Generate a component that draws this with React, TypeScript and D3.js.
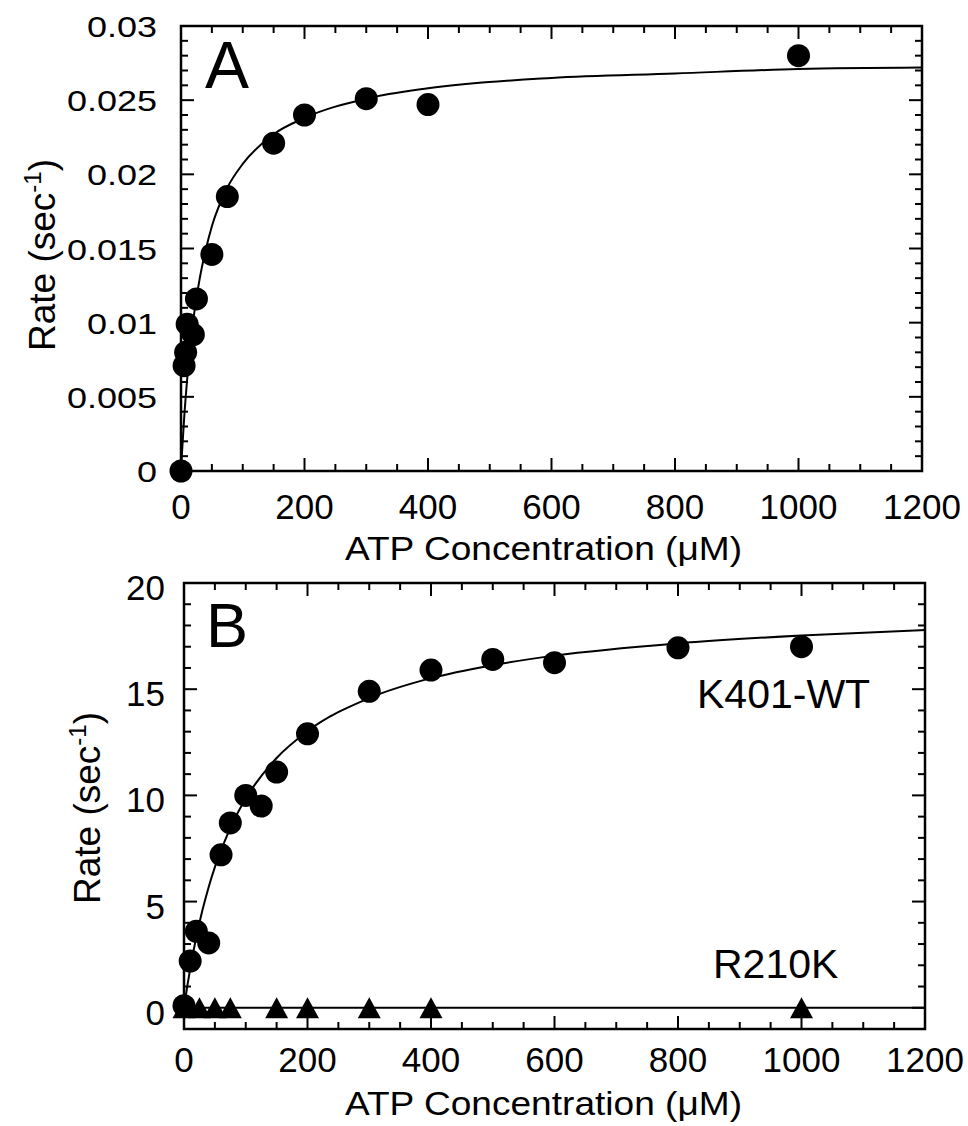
import React from 'react';
import * as d3 from 'd3';

// panel A: ATP dependence of the rate
const atpA = [0, 5, 7.5, 10, 20, 25, 50, 75, 150, 200, 300, 400, 1000];
const rateA = [0, 0.0071, 0.008, 0.0099, 0.0092, 0.0116, 0.0146, 0.0185, 0.0221, 0.024, 0.0251, 0.0247, 0.028];
// fitted curve
const fitAtpA = [0, 2, 5, 10, 15, 20, 30, 40, 50, 75, 100, 150, 200, 300, 400, 600, 800, 1000, 1200];
const fitRateA = [0, 0.0015, 0.0035, 0.0062, 0.0084, 0.0102, 0.0129, 0.0149, 0.0165, 0.0191, 0.0207, 0.0227, 0.0238, 0.0251, 0.0258, 0.0265, 0.0268, 0.0271, 0.0272];

// panel B: K401-WT and R210K
const atpWT = [0, 10, 20, 40, 60, 75, 100, 125, 150, 200, 300, 400, 500, 600, 800, 1000];
const rateWT = [0.1, 2.2, 3.6, 3.05, 7.2, 8.7, 10.0, 9.5, 11.1, 12.9, 14.9, 15.9, 16.4, 16.25, 16.95, 17.0];
const fitAtpWT = [0, 5, 10, 20, 30, 40, 50, 75, 100, 150, 200, 300, 400, 500, 600, 800, 1000, 1200];
const fitRateWT = [0, 0.96, 1.83, 3.34, 4.61, 5.69, 6.62, 8.47, 9.85, 11.76, 13.02, 14.58, 15.52, 16.13, 16.58, 17.16, 17.53, 17.79];
const atpR = [0, 25, 50, 75, 150, 200, 300, 400, 1000];
const rateR = [0, 0, 0, 0, 0, 0, 0, 0, 0];
const fitAtpR = [0, 1200];
const fitRateR = [0, 0];

const xTickLabels = ['0', '200', '400', '600', '800', '1000', '1200'];
const yTickLabelsA = ['0', '0.005', '0.01', '0.015', '0.02', '0.025', '0.03'];
const yTickLabelsB = ['0', '5', '10', '15', '20'];

const FONT = '"Liberation Sans", Arial, Helvetica, sans-serif';
const MAJOR = 13;
const MINOR = 7;

const zip = (xs: number[], ys: number[]) => xs.map((x, i) => [x, ys[i]] as [number, number]);

const Frame = ({ x, y, xMinor, yMinor, xMajor, yMajor }: any) => {
  const [x0, x1] = x.range();
  const [y0, y1] = y.range();
  const ticks: any[] = [];
  xMinor.forEach((v: number) => {
    const len = xMajor.includes(v) ? MAJOR : MINOR;
    const px = x(v);
    ticks.push(<line key={'xb' + v} x1={px} x2={px} y1={y0} y2={y0 - len} />);
    ticks.push(<line key={'xt' + v} x1={px} x2={px} y1={y1} y2={y1 + len} />);
  });
  yMinor.forEach((v: number) => {
    const len = yMajor.some((m: number) => Math.abs(m - v) < 1e-9) ? MAJOR : MINOR;
    const py = y(v);
    ticks.push(<line key={'yl' + v} x1={x0} x2={x0 + len} y1={py} y2={py} />);
    ticks.push(<line key={'yr' + v} x1={x1} x2={x1 - len} y1={py} y2={py} />);
  });
  return (
    <g stroke="#000">
      <g strokeWidth={2}>{ticks}</g>
      <rect x={x0} y={y1} width={x1 - x0} height={y0 - y1} fill="none" strokeWidth={2.5} />
    </g>
  );
};

const triangle = (cx: number, cy: number) =>
  `M${cx},${cy - 10.5}L${cx + 11.5},${cy + 10.5}L${cx - 11.5},${cy + 10.5}Z`;

const YTitle = ({ x, y }: { x: number; y: number }) => (
  <text transform={`translate(${x},${y}) rotate(-90)`} textAnchor="middle" fontSize={37}>
    Rate (sec
    <tspan dy={-14} fontSize={24}>-1</tspan>
    <tspan dy={14}>)</tspan>
  </text>
);

const XTitle = ({ y }: { y: number }) => (
  <text x={543.5} y={y} textAnchor="middle" fontSize={33} textLength={397} lengthAdjust="spacingAndGlyphs">
    ATP Concentration (μM)
  </text>
);

export default function App() {
  // panel A scales
  const xA = d3.scaleLinear().domain([0, 1200]).range([181, 922]);
  const yA = d3.scaleLinear().domain([0, 0.03]).range([471, 26]);
  // panel B scales
  const xB = d3.scaleLinear().domain([0, 1200]).range([184, 925]);
  const yB = d3.scaleLinear().domain([-1, 20]).range([1029, 583]);

  const xMajor = xTickLabels.map(Number);
  const xMinor = d3.range(0, 1201, 50);

  const lineA = d3.line<[number, number]>().x(d => xA(d[0])).y(d => yA(d[1])).curve(d3.curveMonotoneX);
  const lineB = d3.line<[number, number]>().x(d => xB(d[0])).y(d => yB(d[1])).curve(d3.curveMonotoneX);

  const yMajorA = yTickLabelsA.map(Number);
  const yMinorA = d3.range(0, 31).map(i => i / 1000);
  const yMajorB = yTickLabelsB.map(Number);
  const yMinorB = d3.range(0, 21);

  const stretchedWidth = (s: string) =>
    s.split('').reduce((w, c) => w + (c === '.' ? 0.278 : 0.556), 0) * 30 * 1.2;

  return (
    <svg width={968} height={1126} style={{ position: 'absolute', left: 0, top: 0, background: '#fff' }} fontFamily={FONT}>
      <rect width={968} height={1126} fill="#fff" />

      {/* Panel A */}
      <Frame x={xA} y={yA} xMinor={xMinor} yMinor={yMinorA} xMajor={xMajor} yMajor={yMajorA} />
      <path d={lineA(zip(fitAtpA, fitRateA)) || ''} fill="none" stroke="#000" strokeWidth={2} />
      {zip(atpA, rateA).map(([a, r], i) => (
        <circle key={i} cx={xA(a)} cy={yA(r)} r={11.5} fill="#000" />
      ))}
      {yTickLabelsA.map(l => (
        <text key={l} x={157} y={yA(+l) + 11} textAnchor="end" fontSize={30}
          textLength={stretchedWidth(l)} lengthAdjust="spacingAndGlyphs">{l}</text>
      ))}
      {xTickLabels.map(l => (
        <text key={l} x={xA(+l)} y={519} textAnchor="middle" fontSize={35}>{l}</text>
      ))}
      <text x={205} y={88} fontSize={66}>A</text>
      <YTitle x={55} y={255} />
      <XTitle y={560} />

      {/* Panel B */}
      <Frame x={xB} y={yB} xMinor={xMinor} yMinor={yMinorB} xMajor={xMajor} yMajor={yMajorB} />
      <path d={lineB(zip(fitAtpR, fitRateR)) || ''} fill="none" stroke="#000" strokeWidth={2} />
      <path d={lineB(zip(fitAtpWT, fitRateWT)) || ''} fill="none" stroke="#000" strokeWidth={2} />
      {zip(atpR, rateR).map(([a, r], i) => (
        <path key={i} d={triangle(xB(a), yB(r))} fill="#000" />
      ))}
      {zip(atpWT, rateWT).map(([a, r], i) => (
        <circle key={i} cx={xB(a)} cy={yB(r)} r={11.5} fill="#000" />
      ))}
      {yTickLabelsB.map(l => (
        <text key={l} x={165} y={yB(+l) + 17} textAnchor="end" fontSize={35}>{l}</text>
      ))}
      {xTickLabels.map(l => (
        <text key={l} x={xB(+l)} y={1072} textAnchor="middle" fontSize={35}>{l}</text>
      ))}
      <text x={206} y={647} fontSize={63}>B</text>
      <text x={697} y={708} fontSize={41}>K401-WT</text>
      <text x={713} y={978} fontSize={41}>R210K</text>
      <YTitle x={100} y={808} />
      <XTitle y={1115} />
    </svg>
  );
}
